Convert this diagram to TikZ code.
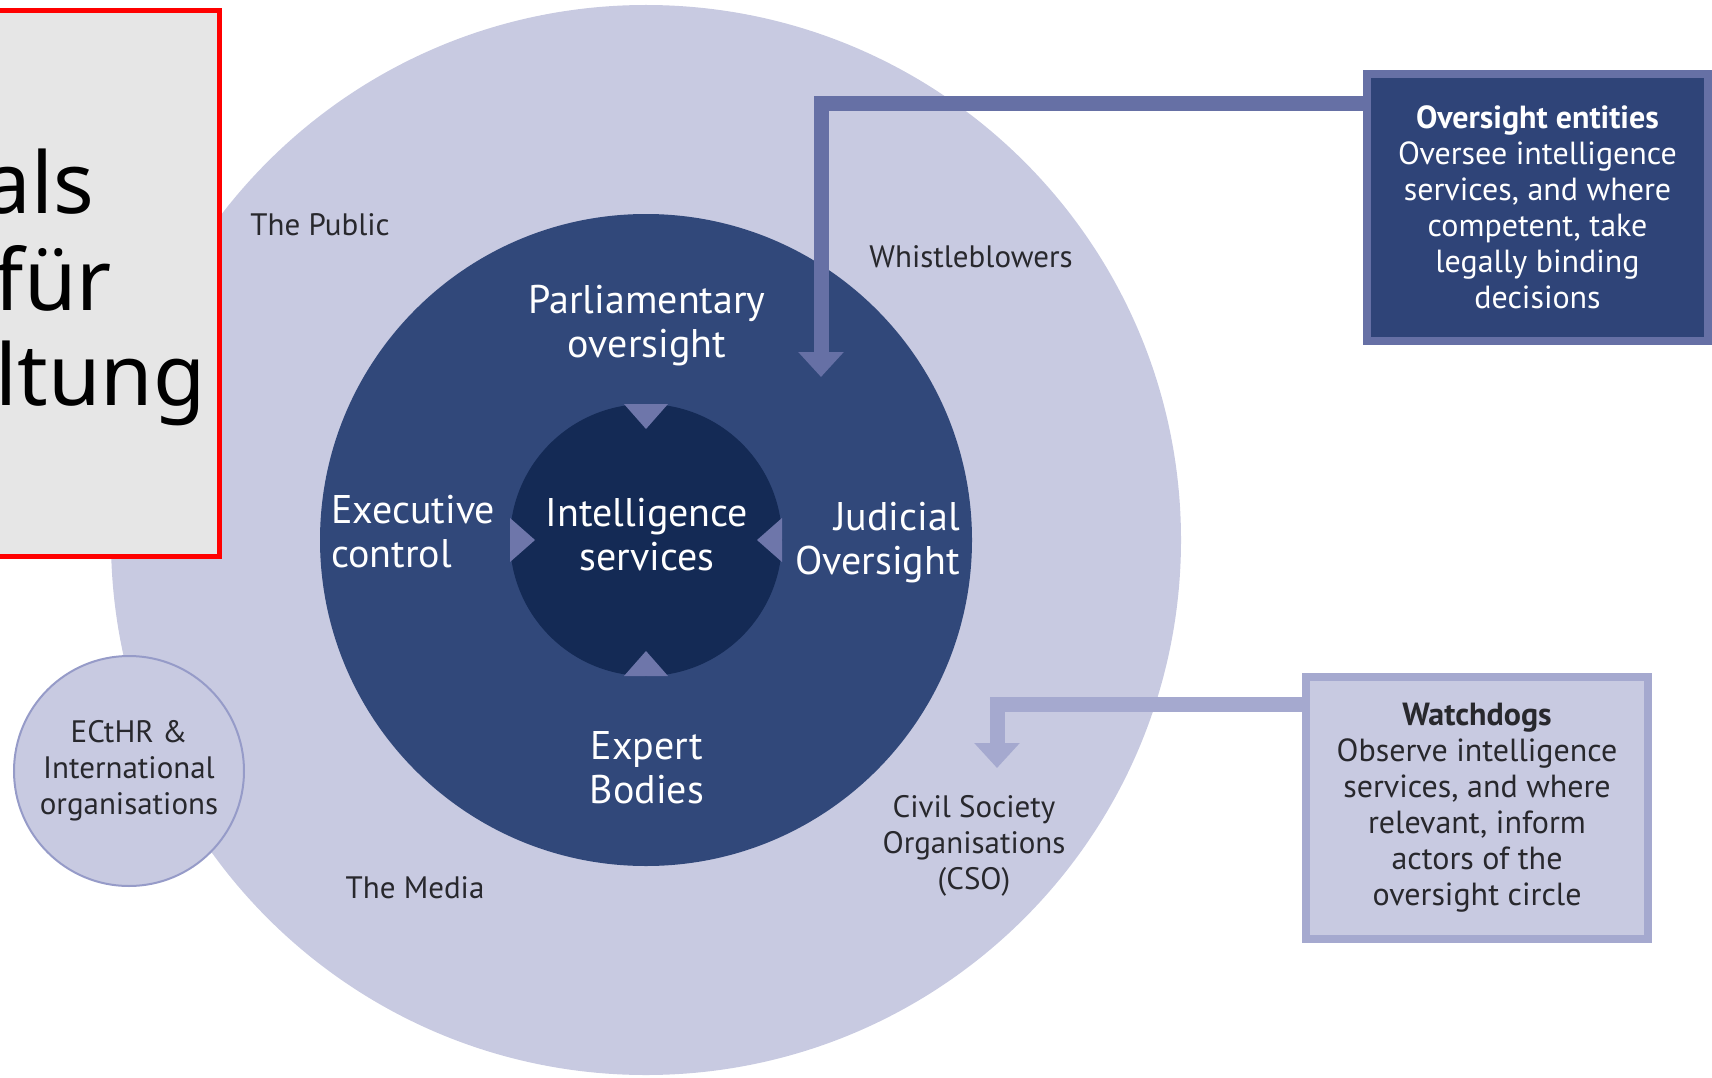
\documentclass[tikz,border=0pt]{standalone}
\usepackage{fontspec}
\setmainfont{PT Sans}
\newfontfamily\slidefont{Noto Sans}
\usetikzlibrary{calc,arrows.meta}

\definecolor{outerblue}{RGB}{200,202,225}
\definecolor{midblue}{RGB}{49,72,122}
\definecolor{coreblue}{RGB}{20,42,85}
\definecolor{tipblue}{RGB}{110,118,170}
\definecolor{entblue}{RGB}{102,112,165}
\definecolor{entfill}{RGB}{47,68,120}
\definecolor{dogblue}{RGB}{165,169,207}
\definecolor{ringedge}{RGB}{150,155,200}
\definecolor{labelgray}{RGB}{40,40,45}
\definecolor{slidegray}{RGB}{230,230,230}

\tikzset{
    whitelabel/.style={text=white, align=center, inner sep=0pt, font=\fontsize{40}{44}\selectfont},
    graylabel/.style={text=labelgray, align=center, inner sep=0pt, font=\fontsize{31}{36}\selectfont},
    infobox/.style={rectangle, line width=8pt, align=center, inner sep=0pt, font=\fontsize{32}{36}\selectfont},
    slidetext/.style={inner sep=0pt, anchor=base east, font=\slidefont\fontsize{85}{96}\selectfont},
    link/.style={line width=15pt, -{Triangle[length=25pt,width=44pt]}},
}

\begin{document}
\begin{tikzpicture}[x=1pt,y=-1pt]
    \useasboundingbox (0,0) rectangle (1712,1078);
    \coordinate (O) at (646,540);
    \fill[outerblue] (O) circle (535);
    \node[circle, draw=ringedge, line width=2pt, fill=outerblue, minimum size=230pt, graylabel] (echr) at (129,771) {ECtHR \&\\International\\organisations};
    \fill[midblue] (O) circle (326);
    \fill[coreblue] (O) circle (136);
    % little pointers round the core
    \foreach \a in {0,90,180,270}
        \fill[tipblue] ($(O)+(\a:136)+(\a+90:22)$) -- ($(O)+(\a:111)$) -- ($(O)+(\a:136)+(\a-90:22)$) -- cycle;

    \node[whitelabel] (parl) at (647,326) {Parliamentary\\oversight};
    \node[whitelabel, align=left, anchor=west] (exec) at (331,532) {Executive\\control};
    \node[whitelabel] (intel) at (647,535) {Intelligence\\services};
    \node[whitelabel, align=right, anchor=east] (jud) at (960,543) {Judicial\\Oversight};
    \node[whitelabel] (expert) at (647,768) {Expert\\Bodies};

    \node[graylabel] (public) at (320,225) {The Public};
    \node[graylabel] (whistle) at (971,257) {Whistleblowers};
    \node[graylabel] (cso) at (974,846) {Civil Society\\Organisations\\(CSO)};
    \node[graylabel] (media) at (415,888) {The Media};

    % boxes on the right
    \node[infobox, draw=entblue, fill=entfill, text=white, minimum width=341pt, minimum height=267pt] (ent) at (1537.5,207.5)
        {\textbf{Oversight entities}\\Oversee intelligence\\services, and where\\competent, take\\legally binding\\decisions};
    \node[infobox, draw=dogblue, fill=outerblue, text=labelgray, minimum width=342pt, minimum height=262pt] (dog) at (1477,808)
        {\textbf{Watchdogs}\\Observe intelligence\\services, and where\\relevant, inform\\actors of the\\oversight circle};

    \coordinate (parltip) at (821,377);
    \coordinate (csotip) at (997,768);
    \draw[link, entblue] ($(ent.north west)+(0,34)$) -| (parltip);
    \draw[link, dogblue] ($(dog.north west)+(0,31)$) -| (csotip);

    % slide box on the left
    \draw[red, line width=5pt, fill=slidegray] (-20,11) rectangle (219,556);
    \node[slidetext] (als) at (94,213) {als};
    \node[slidetext] (fuer) at (112,310) {für};
    \node[slidetext] (ltung) at (206,405) {ltung};
\end{tikzpicture}
\end{document}
